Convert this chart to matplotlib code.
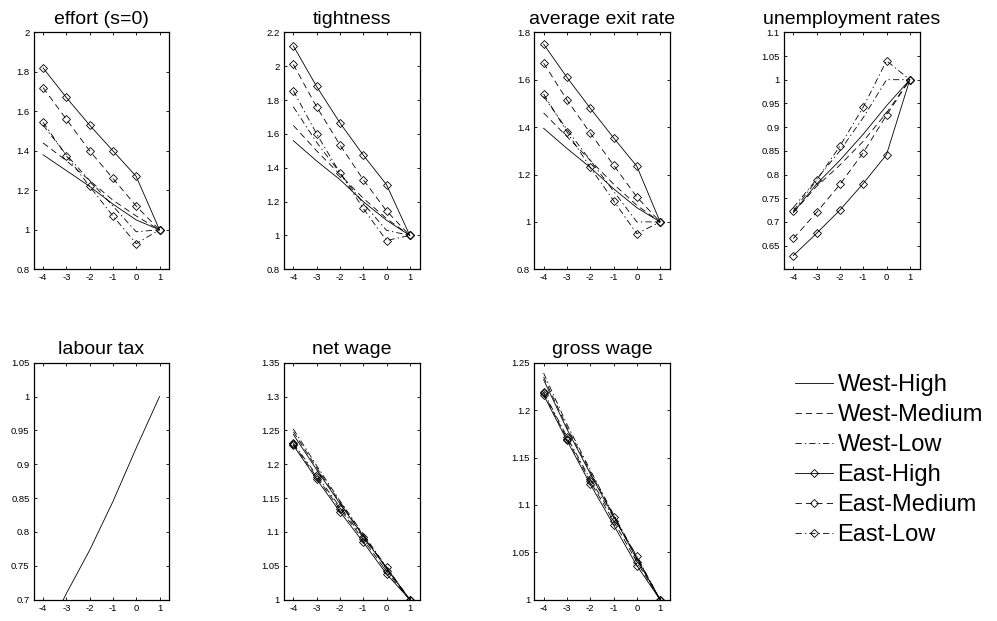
import matplotlib
matplotlib.use("Agg")
import matplotlib.pyplot as plt
from matplotlib.lines import Line2D

plt.rcParams['font.family'] = ['Liberation Sans', 'DejaVu Sans']
plt.rcParams['lines.scale_dashes'] = False

x = [-4, -3, -2, -1, 0, 1]
series_names = ["West-High", "West-Medium", "West-Low", "East-High", "East-Medium", "East-Low"]

effort = {
    "West-High":   [1.38, 1.30, 1.22, 1.13, 1.05, 1.00],
    "West-Medium": [1.44, 1.35, 1.25, 1.15, 1.07, 1.00],
    "West-Low":    [1.53, 1.38, 1.25, 1.12, 0.99, 1.00],
    "East-High":   [1.82, 1.67, 1.53, 1.40, 1.27, 1.00],
    "East-Medium": [1.72, 1.56, 1.40, 1.26, 1.12, 1.00],
    "East-Low":    [1.545, 1.375, 1.22, 1.07, 0.93, 1.00],
}
tightness = {
    "West-High":   [1.56, 1.44, 1.33, 1.20, 1.09, 1.00],
    "West-Medium": [1.65, 1.50, 1.36, 1.22, 1.10, 1.00],
    "West-Low":    [1.76, 1.55, 1.37, 1.19, 1.03, 1.00],
    "East-High":   [2.12, 1.88, 1.665, 1.475, 1.30, 1.00],
    "East-Medium": [2.01, 1.76, 1.535, 1.33, 1.145, 1.00],
    "East-Low":    [1.855, 1.60, 1.37, 1.16, 0.97, 1.00],
}
exit_rate = {
    "West-High":   [1.395, 1.31, 1.23, 1.14, 1.06, 1.00],
    "West-Medium": [1.46, 1.36, 1.26, 1.16, 1.07, 1.00],
    "West-Low":    [1.53, 1.39, 1.26, 1.13, 1.00, 1.00],
    "East-High":   [1.75, 1.61, 1.48, 1.355, 1.235, 1.00],
    "East-Medium": [1.67, 1.515, 1.375, 1.24, 1.105, 1.00],
    "East-Low":    [1.54, 1.38, 1.23, 1.09, 0.95, 1.00],
}
unemployment = {
    "West-High":   [0.72, 0.78, 0.83, 0.885, 0.945, 1.00],
    "West-Medium": [0.72, 0.775, 0.82, 0.87, 0.93, 1.00],
    "West-Low":    [0.73, 0.79, 0.85, 0.92, 1.00, 1.00],
    "East-High":   [0.629, 0.676, 0.725, 0.781, 0.842, 1.00],
    "East-Medium": [0.665, 0.72, 0.779, 0.846, 0.925, 1.00],
    "East-Low":    [0.723, 0.788, 0.86, 0.942, 1.04, 1.00],
}
labour_tax = [0.64, 0.709, 0.773, 0.845, 0.924, 1.00]
net_wage = {
    "West-High":   [1.244, 1.192, 1.142, 1.094, 1.046, 1.00],
    "West-Medium": [1.248, 1.195, 1.144, 1.095, 1.047, 1.00],
    "West-Low":    [1.252, 1.198, 1.146, 1.097, 1.048, 1.00],
    "East-High":   [1.228, 1.178, 1.130, 1.085, 1.038, 1.00],
    "East-Medium": [1.230, 1.181, 1.134, 1.089, 1.042, 1.00],
    "East-Low":    [1.231, 1.184, 1.137, 1.092, 1.048, 1.00],
}
gross_wage = {
    "West-High":   [1.232, 1.180, 1.133, 1.088, 1.043, 1.00],
    "West-Medium": [1.235, 1.182, 1.135, 1.089, 1.044, 1.00],
    "West-Low":    [1.239, 1.185, 1.137, 1.090, 1.045, 1.00],
    "East-High":   [1.216, 1.168, 1.122, 1.079, 1.036, 1.00],
    "East-Medium": [1.218, 1.170, 1.125, 1.083, 1.040, 1.00],
    "East-Low":    [1.219, 1.172, 1.127, 1.087, 1.046, 1.00],
}

styles = {
    "West-High":   dict(linestyle='-'),
    "West-Medium": dict(linestyle=(0, (4.5, 3))),
    "West-Low":    dict(linestyle=(0, (4.5, 2.2, 1, 2.2))),
    "East-High":   dict(linestyle='-', marker='D'),
    "East-Medium": dict(linestyle=(0, (4.5, 3)), marker='D'),
    "East-Low":    dict(linestyle=(0, (4.5, 2.2, 1, 2.2)), marker='D'),
}

W, H = 997, 621
fig = plt.figure(figsize=(W / 100, H / 100), dpi=100)

def add_axes(left_px, top_px, w_px=135.6, h_px=237):
    return fig.add_axes([left_px / W, 1 - (top_px + h_px) / H, w_px / W, h_px / H])

def fmt(v):
    return '%g' % round(v, 4)

def style_axes(ax, title, ylim, yticks):
    ax.set_xlim(-4.4, 1.42)
    ax.set_ylim(*ylim)
    ax.set_xticks(x)
    ax.set_xticklabels([fmt(v) for v in x])
    ax.set_yticks(yticks)
    ax.set_yticklabels([fmt(v) for v in yticks])
    ax.tick_params(direction='in', length=2.5, width=0.6, labelsize=6.8,
                   top=True, right=True, pad=3)
    for s in ax.spines.values():
        s.set_linewidth(0.9)
    ax.set_title(title, fontsize=14, pad=6)

def plot_set(ax, data):
    for name in series_names:
        st = styles[name]
        ax.plot(x, data[name], color='black', linewidth=0.6,
                markersize=4.2, markerfacecolor='none', markeredgewidth=0.6,
                **st)

def ticks(a, b, step):
    n = int(round((b - a) / step))
    return [round(a + i * step, 4) for i in range(n + 1)]

top_row = 32.3
bot_row = 362.7

ax1 = add_axes(33.7, top_row)
plot_set(ax1, effort)
style_axes(ax1, 'effort (s=0)', (0.8, 2.0), ticks(0.8, 2.0, 0.2))

ax2 = add_axes(284.0, top_row)
plot_set(ax2, tightness)
style_axes(ax2, 'tightness', (0.8, 2.2), ticks(0.8, 2.2, 0.2))

ax3 = add_axes(534.3, top_row)
plot_set(ax3, exit_rate)
style_axes(ax3, 'average exit rate', (0.8, 1.8), ticks(0.8, 1.8, 0.2))

ax4 = add_axes(784.0, top_row)
plot_set(ax4, unemployment)
style_axes(ax4, 'unemployment rates', (0.6, 1.1), ticks(0.65, 1.1, 0.05))

ax5 = add_axes(33.7, bot_row)
ax5.plot(x, labour_tax, color='black', linewidth=0.6)
style_axes(ax5, 'labour tax', (0.7, 1.05), ticks(0.7, 1.05, 0.05))

ax6 = add_axes(284.0, bot_row)
plot_set(ax6, net_wage)
style_axes(ax6, 'net wage', (1.0, 1.35), ticks(1.0, 1.35, 0.05))

ax7 = add_axes(534.3, bot_row)
plot_set(ax7, gross_wage)
style_axes(ax7, 'gross wage', (1.0, 1.25), ticks(1.0, 1.25, 0.05))

handles = [Line2D([], [], color='black', linewidth=0.6, markersize=4.2,
                  markerfacecolor='none', markeredgewidth=0.6, **styles[n])
           for n in series_names]
fig.legend(handles, series_names, loc='upper left',
           bbox_to_anchor=(795 / W, 1 - 374 / H), frameon=False,
           fontsize=17, handlelength=1.6, handletextpad=0.2,
           labelspacing=0.34, borderpad=0, borderaxespad=0,
           markerscale=1.0)

fig.savefig('out.png', dpi=100)
